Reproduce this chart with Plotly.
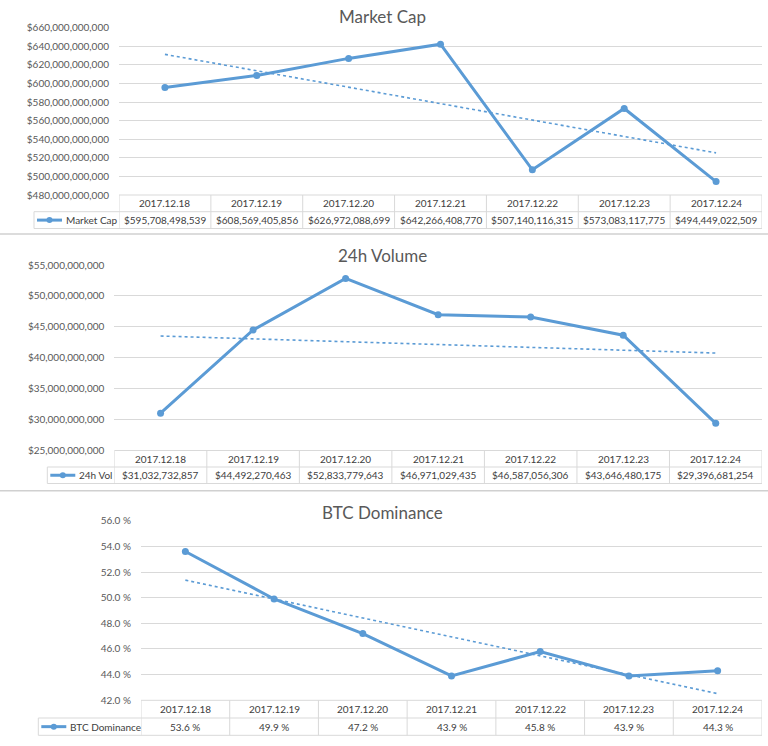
import plotly.graph_objects as go
import numpy as np

# ---------------- data ----------------
dates = ["2017.12.18", "2017.12.19", "2017.12.20", "2017.12.21",
         "2017.12.22", "2017.12.23", "2017.12.24"]
market_cap = [595708498539, 608569405856, 626972088699, 642266408770,
              507140116315, 573083117775, 494449022509]
volume_24h = [31032732857, 44492270463, 52833779643, 46971029435,
              46587056306, 43646480175, 29396681254]
btc_dominance = [53.6, 49.9, 47.2, 43.9, 45.8, 43.9, 44.3]

titles = ["Market Cap", "24h Volume", "BTC Dominance"]
legend_names = ["Market Cap", "24h Vol", "BTC Dominance"]
y_ranges = [[480e9, 660e9], [25e9, 55e9], [42, 56]]
y_dticks = [20e9, 5e9, 2]

# ---------------- style / geometry ----------------
W, H = 768, 746
FONT = "Lato, Carlito, Calibri, sans-serif"
BLUE = "#5b9bd5"
GRID = "#d9d9d9"
BORDER = "#d9d9d9"
TXT = "#595959"
TXT2 = "#404040"
FS = 10


def X(px):
    return px / W


def Y(py):
    return 1 - py / H


panels = [
    dict(left=119, right=762, top=27.7, bottom=195, mid=211.7, tb=228.5,
         leg=34, title_y=16, sep=234),
    dict(left=114.3, right=762, top=265, bottom=450.5, mid=467, tb=483.5,
         leg=47.3, title_y=255, sep=490.7),
    dict(left=141, right=762, top=520.7, bottom=700.3, mid=718, tb=735.3,
         leg=38.3, title_y=512, sep=None),
]

series = [market_cap, volume_24h, btc_dominance]
fmt_val = [lambda v: f"${v:,}", lambda v: f"${v:,}", lambda v: f"{v:.1f} %"]

fig = go.Figure()
shapes = []
annotations = []

for i, (p, vals) in enumerate(zip(panels, series)):
    sfx = "" if i == 0 else str(i + 1)
    xa, ya = "x" + sfx, "y" + sfx
    # main series
    fig.add_trace(go.Scatter(
        x=dates, y=vals, mode="lines+markers", xaxis=xa, yaxis=ya,
        line=dict(color=BLUE, width=3), marker=dict(size=7, color=BLUE),
        showlegend=False, hoverinfo="skip"))
    # linear trendline (least-squares fit of the data)
    idx = np.arange(len(vals))
    k, b = np.polyfit(idx, np.array(vals, dtype=float), 1)
    fig.add_trace(go.Scatter(
        x=[dates[0], dates[-1]], y=[b, k * idx[-1] + b], mode="lines",
        xaxis=xa, yaxis=ya, line=dict(color=BLUE, width=1.6, dash="dot"),
        showlegend=False, hoverinfo="skip"))

    xdom = [X(p["left"]), X(p["right"])]
    ydom = [Y(p["bottom"]), Y(p["top"])]
    fig.layout["xaxis" + sfx] = dict(
        domain=xdom, range=[-0.5, 6.5], type="category",
        showticklabels=False, showgrid=False, zeroline=False,
        showline=False, anchor=ya, fixedrange=True)
    if i == 2:
        ytf = dict(tickformat=".1f", ticksuffix=" %")
    else:
        ytf = dict(tickformat=",d", tickprefix="$")
    fig.layout["yaxis" + sfx] = dict(
        domain=ydom, range=y_ranges[i], dtick=y_dticks[i], tick0=0,
        showgrid=True, gridcolor=GRID, gridwidth=1, zeroline=False,
        showline=False, ticks="", ticklabelstandoff=9, automargin=False,
        tickfont=dict(family=FONT, size=FS, color=TXT), anchor=xa,
        fixedrange=True, **ytf)

    # title
    annotations.append(dict(
        text=titles[i], xref="paper", yref="paper", x=X(382), y=Y(p["title_y"]),
        xanchor="center", yanchor="middle", showarrow=False,
        font=dict(family=FONT, size=17, color=TXT)))

    # ---- data table ----
    line = dict(color=BORDER, width=1)
    # header top (from plot left)
    shapes.append(dict(type="line", xref=xa, yref="paper",
                       x0=-0.5, x1=6.5, y0=Y(p["bottom"]), y1=Y(p["bottom"]), line=line))
    # header/data divider and bottom (from legend cell)
    for yy in (p["mid"], p["tb"]):
        shapes.append(dict(type="line", xref="paper", yref="paper",
                           x0=X(p["leg"]), x1=X(p["right"]), y0=Y(yy), y1=Y(yy), line=line))
    # vertical column borders
    for c in range(len(dates) + 1):
        shapes.append(dict(type="line", xref=xa, yref="paper",
                           x0=c - 0.5, x1=c - 0.5, y0=Y(p["bottom"]), y1=Y(p["tb"]), line=line))
    # legend cell left border
    shapes.append(dict(type="line", xref="paper", yref="paper",
                       x0=X(p["leg"]), x1=X(p["leg"]), y0=Y(p["mid"]), y1=Y(p["tb"]), line=line))
    # legend key
    ly = (p["mid"] + p["tb"]) / 2
    shapes.append(dict(type="line", xref="paper", yref="paper",
                       x0=X(p["leg"] + 3), x1=X(p["leg"] + 28), y0=Y(ly), y1=Y(ly),
                       line=dict(color=BLUE, width=3)))
    shapes.append(dict(type="circle", xref="paper", yref="paper",
                       x0=X(p["leg"] + 12.5), x1=X(p["leg"] + 18.5),
                       y0=Y(ly - 3), y1=Y(ly + 3),
                       fillcolor=BLUE, line=dict(color=BLUE, width=0)))
    annotations.append(dict(
        text=legend_names[i], xref="paper", yref="paper", x=X(p["leg"] + 30), y=Y(ly),
        xanchor="left", yanchor="middle", showarrow=False,
        font=dict(family=FONT, size=FS, color=TXT2)))
    # header labels and values
    hy = (p["bottom"] + p["mid"]) / 2
    for d, v in zip(dates, vals):
        annotations.append(dict(
            text=d, xref=xa, yref="paper", x=d, y=Y(hy), xanchor="center",
            yanchor="middle", showarrow=False,
            font=dict(family=FONT, size=FS, color=TXT2)))
        annotations.append(dict(
            text=fmt_val[i](v), xref=xa, yref="paper", x=d, y=Y(ly), xanchor="center",
            yanchor="middle", showarrow=False,
            font=dict(family=FONT, size=FS, color=TXT2)))

    # chart separator
    if p["sep"] is not None:
        shapes.append(dict(type="line", xref="paper", yref="paper",
                           x0=0, x1=1, y0=Y(p["sep"]), y1=Y(p["sep"]),
                           line=dict(color="#d0d0d0", width=1.5)))

fig.update_layout(
    width=W, height=H, margin=dict(l=0, r=0, t=0, b=0),
    paper_bgcolor="white", plot_bgcolor="white", template="none",
    shapes=shapes, annotations=annotations, showlegend=False,
    font=dict(family=FONT, color=TXT))

fig.write_html("out.html", config={"displayModeBar": False})
